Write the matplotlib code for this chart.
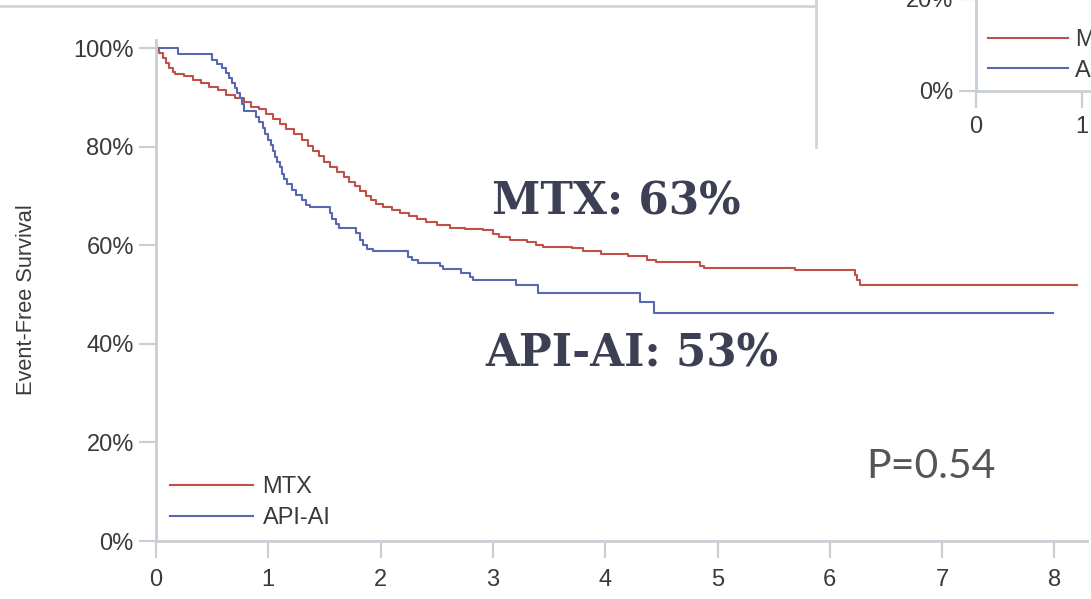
import matplotlib
matplotlib.use("Agg")
import matplotlib.pyplot as plt
from matplotlib.lines import Line2D

# ---------------- data ----------------
mtx_time = [0, 0.03, 0.06, 0.09, 0.12, 0.15, 0.17, 0.25, 0.33, 0.40, 0.47, 0.55, 0.62,
            0.70, 0.78, 0.85, 0.92, 0.98, 1.04, 1.10, 1.16, 1.23, 1.30, 1.35, 1.40, 1.45,
            1.50, 1.55, 1.61, 1.67, 1.72, 1.77, 1.82, 1.87, 1.91, 1.96, 2.02, 2.10, 2.17,
            2.25, 2.32, 2.40, 2.50, 2.62, 2.75, 2.91, 3.00, 3.05, 3.15, 3.30, 3.38, 3.45,
            3.70, 3.80, 3.96, 4.20, 4.37, 4.45, 4.84, 4.88, 5.69, 6.22, 6.24, 6.27, 8.20]
mtx_surv = [100, 99, 98, 97, 96, 95.2, 94.8, 94.3, 93.6, 92.9, 92.2, 91.5, 90.6,
            89.9, 89.2, 88.2, 87.6, 86.6, 85.6, 84.6, 83.6, 82.6, 81.5, 80.2, 79.2, 78.2,
            77.0, 75.9, 74.9, 73.9, 72.9, 72.0, 71.0, 70.0, 69.2, 68.5, 67.8, 67.2, 66.6,
            66.0, 65.4, 64.8, 64.2, 63.6, 63.4, 63.1, 62.3, 61.7, 61.1, 60.6, 60.1, 59.7,
            59.4, 58.9, 58.2, 57.8, 57.0, 56.7, 55.8, 55.4, 55.0, 54.0, 53.0, 52.0, 52.0]

api_time = [0, 0.20, 0.50, 0.54, 0.59, 0.62, 0.65, 0.68, 0.70, 0.72, 0.75, 0.77, 0.78,
            0.89, 0.92, 0.95, 0.97, 1.00, 1.02, 1.04, 1.06, 1.08, 1.10, 1.12, 1.14, 1.17,
            1.21, 1.25, 1.30, 1.34, 1.37, 1.55, 1.57, 1.60, 1.63, 1.78, 1.82, 1.84, 1.88,
            1.93, 2.24, 2.28, 2.33, 2.53, 2.56, 2.72, 2.80, 2.82, 3.21, 3.40, 4.31, 4.43, 7.99]
api_surv = [100, 98.8, 97.7, 96.8, 96.0, 95.0, 94.0, 93.0, 92.0, 91.0, 90.0, 88.8, 87.2,
            86.0, 85.0, 83.8, 82.7, 81.5, 80.4, 79.2, 78.0, 77.0, 75.9, 74.6, 73.4, 72.4,
            71.3, 70.2, 69.2, 68.3, 67.7, 66.6, 65.4, 64.4, 63.6, 62.5, 61.2, 60.0, 59.3,
            58.8, 57.6, 57.0, 56.4, 55.9, 55.2, 54.5, 53.5, 53.0, 52.0, 50.3, 48.6, 46.3, 46.3]

series_names = ["MTX", "API-AI"]
x_ticks = [0, 1, 2, 3, 4, 5, 6, 7, 8]
y_ticks = [0, 20, 40, 60, 80, 100]
y_tick_labels = ["0%", "20%", "40%", "60%", "80%", "100%"]
inset_x_ticks = [0, 1]
inset_y_ticks = [0, 20]
inset_y_tick_labels = ["0%", "20%"]
ann_mtx = "MTX: 63%"
ann_api = "API-AI: 53%"
p_text = "P=0.54"
y_label = "Event-Free Survival"

# ---------------- style ----------------
RED = "#bf5149"
BLUE = "#5767b0"
AXC = "#c9ced4"
TXT = "#3a3a3a"
BIG = "#3d3f55"
W, H = 1091, 599

plt.rcParams["font.family"] = ["Liberation Sans", "DejaVu Sans"]
fig = plt.figure(figsize=(W / 100, H / 100), dpi=100)
fig.patch.set_facecolor("white")

def fx(px):
    return px / W

def fy(py):
    return (H - py) / H

def style_axes(a, xpad, ypad):
    for s in ["top", "right"]:
        a.spines[s].set_visible(False)
    for s in ["left", "bottom"]:
        a.spines[s].set_color(AXC)
        a.spines[s].set_linewidth(2)
    a.tick_params(axis="both", colors=AXC, length=12, width=1.6, labelcolor=TXT,
                  labelsize=17)
    a.tick_params(axis="x", pad=xpad)
    a.tick_params(axis="y", pad=ypad)

# main axes
ax = fig.add_axes([fx(156), fy(541), fx(1087) - fx(156), fy(40) - fy(541)])
ax.step(mtx_time, mtx_surv, where="post", color=RED, lw=1.5, label=series_names[0])
ax.step(api_time, api_surv, where="post", color=BLUE, lw=1.5, label=series_names[1])
ax.set_xlim(0, 8.29)
ax.set_ylim(0, 101.7)
ax.set_xticks(x_ticks)
ax.set_xticklabels([str(t) for t in x_ticks])
ax.set_yticks(y_ticks)
ax.set_yticklabels(y_tick_labels)
style_axes(ax, 8, 4)
ax.set_ylabel(y_label, fontsize=15.7, color=TXT)
ax.yaxis.set_label_coords(-0.128, 0.481)

leg = ax.legend(loc="upper left", bbox_to_anchor=(0.015, 0.129), frameon=False,
                fontsize=17, handlelength=3.5, handletextpad=0.42, labelspacing=0.38,
                borderpad=0, borderaxespad=0)
for t in leg.get_texts():
    t.set_color(TXT)

ax.text(4.10, 68.8, ann_mtx, fontsize=31.5, fontweight="bold", color=BIG,
        family="DejaVu Serif", ha="center", va="center")
ax.text(4.24, 38.0, ann_api, fontsize=31.5, fontweight="bold", color=BIG,
        family="DejaVu Serif", ha="center", va="center")
ax.text(6.90, 15.2, p_text, fontsize=29.5, color="#555555", family="Lato",
        ha="center", va="center")

# inset (partial chart pasted at top-right)
ix0, iy0 = 975.7, 90.7
ppu_x, ppu_y = 106.0, 4.6
iax = fig.add_axes([fx(ix0), fy(iy0), fx(1300) - fx(ix0), fy(-25) - fy(iy0)])
iax.patch.set_alpha(0)
iax.plot([], [], color=RED, lw=1.5, label=series_names[0])
iax.plot([], [], color=BLUE, lw=1.5, label=series_names[1])
iax.set_xlim(0, (1300 - ix0) / ppu_x)
iax.set_ylim(0, (iy0 + 25) / ppu_y)
iax.set_xticks(inset_x_ticks)
iax.set_xticklabels([str(t) for t in inset_x_ticks])
iax.set_yticks(inset_y_ticks)
iax.set_yticklabels(inset_y_tick_labels)
style_axes(iax, 6, 4)
ileg = iax.legend(loc="upper left", bbox_to_anchor=(0.038, 0.529), frameon=False,
                  fontsize=17, handlelength=3.4, handletextpad=0.3, labelspacing=0.34,
                  borderpad=0, borderaxespad=0)
for t in ileg.get_texts():
    t.set_color(TXT)

# screenshot frame lines
fig.add_artist(Line2D([0, fx(816)], [fy(6), fy(6)], color="#d4d4d4", lw=2,
                      transform=fig.transFigure))
fig.add_artist(Line2D([fx(816), fx(816)], [fy(0), fy(147)], color="#d4d4d4", lw=2,
                      transform=fig.transFigure))

fig.savefig("out.png", dpi=100, facecolor="white")
